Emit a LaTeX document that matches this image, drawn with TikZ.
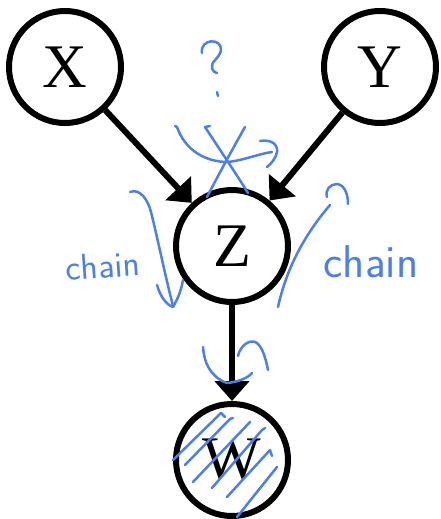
\documentclass[tikz,border=0pt]{standalone}
\usepackage{fontspec}
\setmainfont{Liberation Serif}
\usetikzlibrary{arrows.meta}
\definecolor{inkblue}{RGB}{76,128,232}
\begin{document}
\begin{tikzpicture}[x=1pt,y=-1pt,
  var/.style={circle,draw=black,line width=6pt,minimum size=112pt,inner sep=0pt,
              font=\fontsize{62}{62}\selectfont},
  edge/.style={line width=6pt,-{Triangle[length=20pt,width=34pt]}},
  ink/.style={draw=inkblue,line width=2.5pt,line cap=round,line join=round},
  note/.style={text=inkblue,font=\sffamily\fontsize{#1}{#1}\selectfont},
  note/.default=30]
\useasboundingbox (0,0) rectangle (440,519);

% graph
\node[var] (X) at (65,67) {X};
\node[var] (Y) at (380,67) {Y};
\node[var] (Z) at (232,246) {Z};
\node[var] (W) at (232,460) {W};
\draw[edge] (X) -- (Z);
\draw[edge] (Y) -- (Z);
\draw[edge] (Z) -- (W);

% question mark
\draw[ink] (202,53) .. controls (200,38) and (222,38) .. (221,50)
           .. controls (220,58) and (210,62) .. (212,68)
           .. controls (213,72) and (216,73) .. (217,73);
\draw[ink] (217,92) -- (218,96);

% crossed-out arc between X and Y
\draw[ink] (175,126) -- (177,127) .. controls (185,150) and (205,162) .. (228,162)
           .. controls (245,160) and (258,154) .. (272,152);
\draw[ink] (260,141) .. controls (272,139) and (278,145) .. (277,152)
           .. controls (276,158) and (271,164) .. (267,167);
\draw[ink] (210,126) -- (205,127) .. controls (220,150) and (235,172) .. (248,193);
\draw[ink] (245,127) .. controls (232,150) and (220,172) .. (207,197);

% chain arrow, left
\draw[ink] (130,192) .. controls (140,188) and (148,200) .. (151,212)
           .. controls (158,240) and (165,275) .. (173,306);
\draw[ink] (157,285) .. controls (160,295) and (165,304) .. (173,307)
           .. controls (177,300) and (181,292) .. (183,280);
\node[note=36, rotate=4] (chainL) at (103,266) {chain};

% chain arrow, right
\draw[ink] (278,307) .. controls (285,275) and (300,240) .. (330,205);
\draw[ink] (327,197) .. controls (325,190) and (330,184) .. (337,184)
           .. controls (345,185) and (348,195) .. (348,204);
\node[note=46] (chainR) at (371,262) {chain};

% loop marks on Z -> W
\draw[ink] (203,347) .. controls (204,362) and (210,377) .. (227,383)
           .. controls (238,382) and (248,378) .. (252,373);
\draw[ink] (238,356) .. controls (240,346) and (250,338) .. (257,343)
           .. controls (263,348) and (266,360) .. (268,370);

% hatching over W
\draw[ink] (173,460) -- (221,413) -- (225,417);
\draw[ink] (185,465) -- (230,419) -- (233,418);
\draw[ink] (193,482) -- (250,422);
\draw[ink] (212,488) -- (262,430) -- (265,428);
\draw[ink] (227,497) -- (270,450) -- (272,456);
\draw[ink] (237,517) -- (277,467);
\end{tikzpicture}
\end{document}
